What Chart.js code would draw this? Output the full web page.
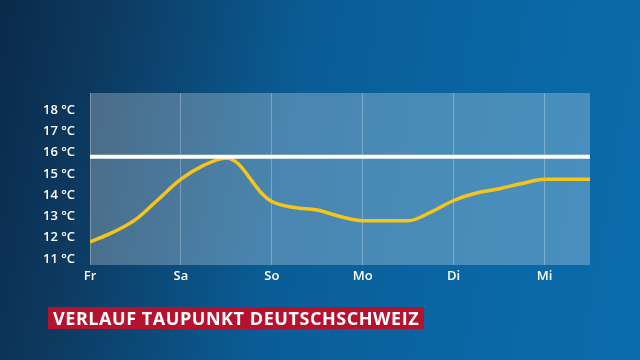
<!DOCTYPE html>
<html>
<head>
<meta charset="utf-8">
<script src="https://cdn.jsdelivr.net/npm/chart.js@4/dist/chart.umd.min.js"></script>
<style>
  html, body { margin: 0; padding: 0; }
  body {
    width: 640px; height: 360px; overflow: hidden; position: relative;
    background: linear-gradient(100deg, #0a2a4a 0%, #0d3a60 16%, #0a5d96 45%, #0a68a6 80%, #0a6cad 100%);
    font-family: "Open Sans", sans-serif;
  }
  #wrap { position: absolute; left: 0; top: 0; width: 640px; height: 360px; }
  #title {
    position: absolute; left: 48px; top: 307px; height: 22px; line-height: 22px;
    padding: 0 5px; background: #b5122e; color: #fff;
    font-weight: 700; font-size: 18px; letter-spacing: 0.55px; white-space: nowrap;
  }
</style>
</head>
<body>
<div id="wrap"><canvas id="chart" width="640" height="360"></canvas></div>
<div id="title">VERLAUF TAUPUNKT DEUTSCHSCHWEIZ</div>
<script>
// days as x positions (0 = Fr)
const dayLabels = ["Fr", "Sa", "So", "Mo", "Di", "Mi"];
const hours = [0, 0.25, 0.5, 0.75, 1, 1.25, 1.5, 1.625, 1.75, 1.875, 2, 2.25, 2.5, 2.75, 3, 3.25, 3.5, 3.75, 4, 4.25, 4.5, 4.75, 5, 5.25, 5.5];
const dewPoint = [11.8, 12.25, 12.85, 13.8, 14.75, 15.4, 15.75, 15.5, 14.85, 14.15, 13.7, 13.42, 13.3, 13.0, 12.8, 12.8, 12.8, 13.2, 13.75, 14.1, 14.3, 14.55, 14.75, 14.75, 14.75];
const threshold = 15.8;
const yTicks = [11, 12, 13, 14, 15, 16, 17, 18];

const plotBg = {
  id: "plotBg",
  beforeDraw(chart) {
    const { ctx, chartArea: a } = chart;
    ctx.save();
    ctx.fillStyle = "rgba(255,255,255,0.26)";
    ctx.fillRect(a.left, a.top, a.right - a.left, a.bottom - a.top);
    ctx.restore();
  }
};

new Chart(document.getElementById("chart"), {
  type: "line",
  data: {
    datasets: [
      {
        data: [{ x: 0, y: threshold }, { x: 5.5, y: threshold }],
        borderColor: "#ffffff", borderWidth: 4, pointRadius: 0, order: 1
      },
      {
        data: hours.map((h, i) => ({ x: h, y: dewPoint[i] })),
        borderColor: "#f5c518", borderWidth: 3.5, pointRadius: 0,
        cubicInterpolationMode: "monotone", order: 2
      }
    ]
  },
  options: {
    responsive: false,
    animation: false,
    layout: { padding: { left: 0, right: 50, top: 93, bottom: 0 } },
    plugins: { legend: { display: false }, tooltip: { enabled: false } },
    scales: {
      x: {
        type: "linear", min: 0, max: 5.5,
        afterFit(s) { s.height = 95; },
        border: { display: false },
        grid: { color: "rgba(255,255,255,0.28)", lineWidth: 1, drawTicks: false },
        ticks: {
          stepSize: 1, includeBounds: false, padding: 3,
          color: "#ffffff", font: { family: "Open Sans", size: 13, weight: "600" },
          callback: v => dayLabels[v]
        }
      },
      y: {
        min: 10.72, max: 18.8,
        afterFit(s) { s.width = 90; },
        afterBuildTicks(s) { s.ticks = yTicks.map(v => ({ value: v })); },
        border: { display: false },
        grid: { display: false },
        ticks: {
          padding: 7, color: "#ffffff",
          font: { family: "Open Sans", size: 13, weight: "600" },
          callback: v => v + " °C"
        }
      }
    }
  },
  plugins: [plotBg]
});
</script>
</body>
</html>
